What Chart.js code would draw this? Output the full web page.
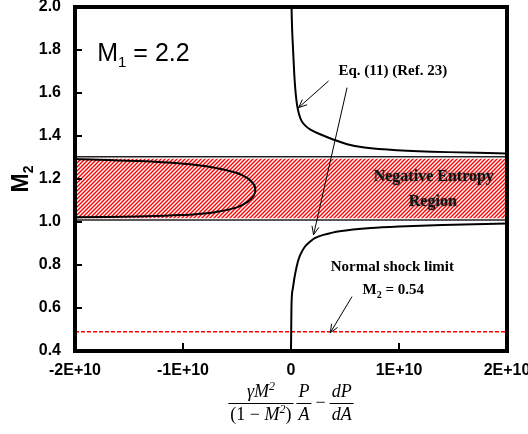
<!DOCTYPE html>
<html>
<head>
<meta charset="utf-8">
<script src="https://cdn.jsdelivr.net/npm/chart.js@4.4.0/dist/chart.umd.min.js"></script>
<style>
  html, body { margin: 0; padding: 0; background: #fff; }
</style>
</head>
<body>
<canvas id="chart" width="528" height="434"></canvas>
<script>
// ---- data ----
// Eq. (11) branch above the band (M2 > 1.3)
const upperX = [0.004e10, 0.01e10, 0.019e10, 0.026e10, 0.033e10, 0.043e10, 0.056e10, 0.075e10, 0.10e10, 0.135e10, 0.18e10, 0.27e10, 0.39e10, 0.52e10, 0.68e10, 0.98e10, 1.45e10, 2.0e10];
const upperM = [2.02, 1.90, 1.804, 1.73, 1.665, 1.60, 1.545, 1.50, 1.468, 1.447, 1.43, 1.408, 1.384, 1.362, 1.346, 1.334, 1.325, 1.319];

// Eq. (11) branch below the band (M2 < 1)
const lowerX = [0, 0.002e10, 0.005e10, 0.01e10, 0.02e10, 0.03e10, 0.045e10, 0.068e10, 0.09e10, 0.13e10, 0.18e10, 0.22e10, 0.3e10, 0.45e10, 0.74e10, 1.0e10, 1.4e10, 2.0e10];
const lowerM = [0.4, 0.5, 0.62, 0.67, 0.70, 0.735, 0.775, 0.823, 0.852, 0.886, 0.91, 0.925, 0.94, 0.957, 0.972, 0.979, 0.986, 0.993];

// closed loop inside the negative entropy band (x < 0)
const loopX = [-2.0e10, -1.43e10, -1.02e10, -0.72e10, -0.5e10, -0.4e10, -0.345e10, -0.33e10, -0.345e10, -0.4e10, -0.5e10, -0.72e10, -1.02e10, -1.43e10, -2.0e10];
const loopM = [1.293, 1.284, 1.272, 1.254, 1.228, 1.203, 1.175, 1.15, 1.122, 1.095, 1.068, 1.044, 1.032, 1.026, 1.022];

// negative entropy band and normal shock limit
const bandLimits = [1.009, 1.303];     // border lines
const hatchLimits = [1.017, 1.294];    // hatched fill
const shockM = 0.49;
const xRange = [-2e10, 2e10];
const yRange = [0.4, 2.0];

// annotation anchors (axis units)
const arrows = [
  [0.348e10, 1.656, 0.070e10, 1.532],
  [0.519e10, 1.625, 0.209e10, 0.941],
  [0.565e10, 0.653, 0.364e10, 0.485]
];

const SANS = '"Liberation Sans", Arial, sans-serif';
const SERIF = '"Liberation Serif", "Times New Roman", serif';

const pts = (xs, ys) => xs.map((x, i) => ({ x: x, y: ys[i] }));
const flat = (m) => [{ x: xRange[0], y: m }, { x: xRange[1], y: m }];

function hatch() {
  const c = document.createElement('canvas');
  c.width = c.height = 4;
  const g = c.getContext('2d');
  g.fillStyle = '#fff';
  g.fillRect(0, 0, 4, 4);
  g.strokeStyle = '#ff0000';
  g.lineWidth = 1.4;
  g.beginPath();
  g.moveTo(-1, 5); g.lineTo(5, -1);
  g.moveTo(-1, 1); g.lineTo(1, -1);
  g.moveTo(3, 5); g.lineTo(5, 3);
  g.stroke();
  return document.getElementById('chart').getContext('2d').createPattern(c, 'repeat');
}

function arrow(ctx, x1, y1, x2, y2) {
  const a = Math.atan2(y2 - y1, x2 - x1), h = 9;
  ctx.beginPath();
  ctx.moveTo(x1, y1); ctx.lineTo(x2, y2);
  ctx.moveTo(x2 - h * Math.cos(a - 0.4), y2 - h * Math.sin(a - 0.4));
  ctx.lineTo(x2, y2);
  ctx.lineTo(x2 - h * Math.cos(a + 0.4), y2 - h * Math.sin(a + 0.4));
  ctx.stroke();
}

// draw text pieces side by side: [text, font, dy]
function runs(ctx, parts, x, y, align) {
  let w = 0;
  parts.forEach(p => { ctx.font = p[1]; w += ctx.measureText(p[0]).width; });
  let cx = align === 'center' ? x - w / 2 : x;
  ctx.textAlign = 'left';
  ctx.textBaseline = 'alphabetic';
  parts.forEach(p => {
    ctx.font = p[1];
    ctx.fillText(p[0], cx, y + (p[2] || 0));
    cx += ctx.measureText(p[0]).width;
  });
  return w;
}

// stacked fraction centred at cx, returns width
function frac(ctx, num, den, cx, barY, font, measureOnly) {
  let wn = 0, wd = 0;
  num.forEach(p => { ctx.font = p[1] || font; wn += ctx.measureText(p[0]).width; });
  den.forEach(p => { ctx.font = p[1] || font; wd += ctx.measureText(p[0]).width; });
  const w = Math.max(wn, wd) + 4;
  if (measureOnly) return w;
  runs(ctx, num.map(p => [p[0], p[1] || font, p[2]]), cx, barY - 6, 'center');
  runs(ctx, den.map(p => [p[0], p[1] || font, p[2]]), cx, barY + 17, 'center');
  ctx.lineWidth = 1;
  ctx.beginPath();
  ctx.moveTo(cx - w / 2, barY + 0.5);
  ctx.lineTo(cx + w / 2, barY + 0.5);
  ctx.stroke();
  return w;
}

const decor = {
  id: 'decor',
  afterDatasetsDraw(chart) {
    const { ctx, chartArea: a, scales: { x, y } } = chart;
    ctx.save();
    ctx.strokeStyle = '#000';
    ctx.fillStyle = '#000';

    // inner tick marks
    ctx.lineWidth = 2;
    ctx.beginPath();
    x.ticks.forEach(t => {
      const px = Math.round(x.getPixelForValue(t.value));
      ctx.moveTo(px, a.bottom); ctx.lineTo(px, a.bottom - 8);
    });
    y.ticks.forEach(t => {
      const py = Math.round(y.getPixelForValue(t.value));
      ctx.moveTo(a.left, py); ctx.lineTo(a.left + 7, py);
    });
    ctx.stroke();

    // frame
    ctx.lineWidth = 4;
    ctx.strokeRect(a.left, a.top, a.right - a.left, a.bottom - a.top);

    // arrows
    ctx.lineWidth = 1;
    arrows.forEach(r => arrow(ctx,
      x.getPixelForValue(r[0]), y.getPixelForValue(r[1]),
      x.getPixelForValue(r[2]), y.getPixelForValue(r[3])));

    // labels
    runs(ctx, [['M', '25px ' + SANS], ['1', '15px ' + SANS, 6], [' = 2.2', '25px ' + SANS]],
      x.getPixelForValue(-1.794e10), y.getPixelForValue(1.748), 'left');

    ctx.font = 'bold 15px ' + SERIF;
    ctx.textAlign = 'center';
    ctx.textBaseline = 'middle';
    ctx.fillText('Eq. (11) (Ref. 23)', x.getPixelForValue(0.943e10), y.getPixelForValue(1.704));
    ctx.fillText('Normal shock limit', x.getPixelForValue(0.938e10), y.getPixelForValue(0.792));
    runs(ctx, [['M', 'bold 15px ' + SERIF], ['2', 'bold 10px ' + SERIF, 4], [' = 0.54', 'bold 15px ' + SERIF]],
      x.getPixelForValue(0.947e10), y.getPixelForValue(0.665), 'center');

    ctx.save();
    ctx.shadowColor = 'rgba(60,60,60,0.8)';
    ctx.shadowBlur = 3;
    ctx.font = 'bold 16px ' + SERIF;
    ctx.textAlign = 'center';
    ctx.textBaseline = 'middle';
    ctx.fillStyle = '#111';
    ctx.fillText('Negative Entropy', x.getPixelForValue(1.322e10), y.getPixelForValue(1.209));
    ctx.fillText('Region', x.getPixelForValue(1.313e10), y.getPixelForValue(1.095));
    ctx.restore();

    // y title (rotated M2)
    ctx.save();
    ctx.translate(28, (a.top + a.bottom) / 2);
    ctx.rotate(-Math.PI / 2);
    runs(ctx, [['M', 'bold 23px ' + SANS], ['2', 'bold 14px ' + SANS, 5]], 0, 0, 'center');
    ctx.restore();

    // x title: gamma M^2/(1-M^2) * P/A - dP/dA
    const it = 'italic 18px ' + SERIF, up = '18px ' + SERIF, sup = 'italic 12px ' + SERIF;
    const barY = 403;
    const n1 = [['\u03B3', it], ['M', it], ['2', sup, -7]];
    const d1 = [['(1 \u2212 ', up], ['M', it], ['2', sup, -7], [')', up]];
    const n2 = [['P', it]], d2 = [['A', it]];
    const n3 = [['dP', it]], d3 = [['dA', it]];
    const w1 = frac(ctx, n1, d1, 0, 0, it, true);
    const w2 = frac(ctx, n2, d2, 0, 0, it, true);
    const w3 = frac(ctx, n3, d3, 0, 0, it, true);
    ctx.font = up;
    const wm = ctx.measureText('\u2212').width + 8;
    const total = w1 + 3 + w2 + wm + w3;
    let sx = (a.left + a.right) / 2 - total / 2;
    frac(ctx, n1, d1, sx + w1 / 2, barY, it); sx += w1 + 3;
    frac(ctx, n2, d2, sx + w2 / 2, barY, it); sx += w2;
    runs(ctx, [['\u2212', up]], sx + wm / 2, barY + 5, 'center'); sx += wm;
    frac(ctx, n3, d3, sx + w3 / 2, barY, it);

    ctx.restore();
  }
};

const line = (data, extra) => Object.assign({
  data: data, borderColor: '#000', borderWidth: 2, pointRadius: 0,
  fill: false, order: 1
}, extra);

new Chart(document.getElementById('chart'), {
  type: 'line',
  data: {
    datasets: [
      line(pts(upperX, upperM), { tension: 0.3 }),
      line(pts(lowerX, lowerM), { tension: 0.3 }),
      line(pts(loopX, loopM), { tension: 0.4 }),
      line(flat(shockM), { borderColor: '#ff0000', borderWidth: 1.5, borderDash: [4, 2] }),
      line(flat(bandLimits[1]), { borderColor: '#222', borderWidth: 1.5, order: 2 }),
      line(flat(bandLimits[0]), { borderColor: '#222', borderWidth: 1.5, order: 2 }),
      line(flat(hatchLimits[1]), { borderWidth: 0, borderColor: 'rgba(0,0,0,0)',
        backgroundColor: hatch(), fill: { value: hatchLimits[0] }, order: 3 })
    ]
  },
  options: {
    responsive: false,
    animation: false,
    events: [],
    layout: { padding: { top: 7, right: 21, left: 0, bottom: 0 } },
    plugins: { legend: { display: false }, tooltip: { enabled: false } },
    scales: {
      x: {
        type: 'linear', min: xRange[0], max: xRange[1],
        grid: { display: false, drawTicks: false },
        border: { display: false },
        ticks: {
          stepSize: 1e10, autoSkip: false, maxRotation: 0, padding: 10,
          color: '#000', font: { family: SANS, size: 16, weight: 'bold' },
          callback: v => v === 0 ? '0' : (v / 1e10) + 'E+10'
        },
        afterFit: s => { s.height = 83; s.paddingLeft = 0; s.paddingRight = 0; }
      },
      y: {
        min: yRange[0], max: yRange[1],
        grid: { display: false, drawTicks: false },
        border: { display: false },
        ticks: {
          stepSize: 0.2, padding: 14,
          color: '#000', font: { family: SANS, size: 16, weight: 'bold' },
          callback: v => v.toFixed(1)
        },
        afterFit: s => { s.width = 75; s.paddingTop = 0; s.paddingBottom = 0; }
      }
    }
  },
  plugins: [decor]
});
</script>
</body>
</html>
